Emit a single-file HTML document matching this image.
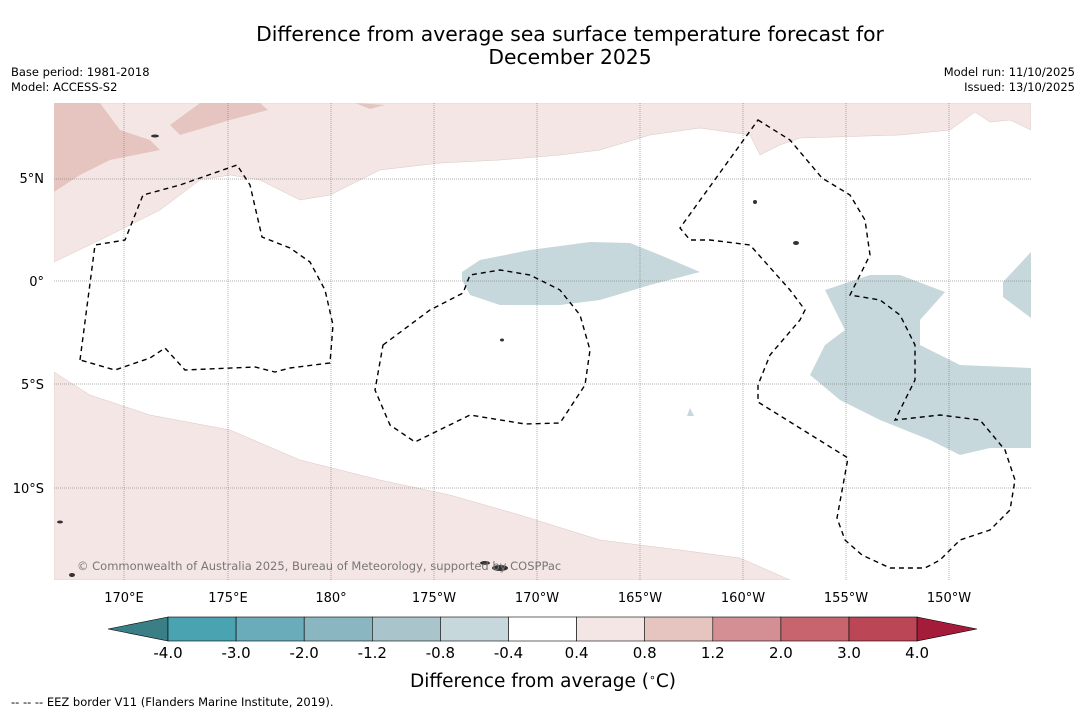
<!DOCTYPE html>
<html><head><meta charset="utf-8">
<style>
body{margin:0;background:#fff;width:1085px;height:713px;overflow:hidden;font-family:"DejaVu Sans",sans-serif;}
svg text{font-family:"DejaVu Sans",sans-serif;}
</style></head>
<body>
<svg width="1085" height="713" xmlns="http://www.w3.org/2000/svg">
<text x="570" y="41" font-size="20.3" text-anchor="middle">Difference from average sea surface temperature forecast for</text>
<text x="570" y="64" font-size="20.3" text-anchor="middle">December 2025</text>
<text x="11" y="76" font-size="11.5">Base period: 1981-2018</text>
<text x="11" y="91" font-size="11.5">Model: ACCESS-S2</text>
<text x="1075" y="76" font-size="11.5" text-anchor="end">Model run: 11/10/2025</text>
<text x="1075" y="91" font-size="11.5" text-anchor="end">Issued: 13/10/2025</text>
<g id="map">
<clipPath id="mc"><rect x="54" y="103" width="977" height="477"/></clipPath>
<g clip-path="url(#mc)">
<rect x="54" y="103" width="977" height="477" fill="#fff"/>
<path fill="#f4e6e4" stroke="#d9c8c6" stroke-width="0.5" d="M54,103 L1031,103 L1031,130 L1010,120 L990,122 L975,112 L950,130 L900,135 L800,138 L780,145 L760,155 L750,135 L700,128 L650,135 L600,150 L560,155 L500,160 L440,163 L380,170 L330,195 L300,200 L260,180 L230,175 L200,180 L160,210 L100,240 L54,262 Z"/>
<path fill="#e6c5c0" d="M54,103 L100,103 L120,130 L150,140 L160,150 L110,160 L80,175 L54,192 Z"/>
<path fill="#e6c5c0" d="M170,125 L200,103 L260,103 L268,110 L230,120 L180,135 Z"/>
<path fill="#e6c5c0" d="M355,103 L385,105 L370,109 Z"/>
<path fill="#f4e6e4" stroke="#d9c8c6" stroke-width="0.5" d="M54,372 L90,395 L150,415 L230,430 L300,460 L380,480 L450,495 L520,515 L600,540 L680,550 L740,558 L790,580 L54,580 Z"/>
<path fill="#c6d8dc" d="M462,272 L480,260 L530,250 L590,242 L630,243 L660,255 L700,272 L650,285 L600,300 L560,305 L500,305 L470,295 L462,280 Z"/>
<path fill="#c6d8dc" d="M825,290 L870,275 L900,275 L945,292 L920,320 L920,345 L960,365 L1031,368 L1031,448 L990,448 L960,455 L930,440 L880,420 L840,400 L810,375 L825,345 L845,330 Z"/>
<path fill="#c6d8dc" d="M1003,282 L1031,252 L1031,318 L1003,297 Z"/>
<path fill="#c6d8dc" d="M687,416 L690,408 L694,416 Z"/>
<g stroke="#666" stroke-width="0.5" stroke-dasharray="1,1">
<line x1="124" y1="103" x2="124" y2="580"/><line x1="228" y1="103" x2="228" y2="580"/><line x1="331" y1="103" x2="331" y2="580"/><line x1="434" y1="103" x2="434" y2="580"/><line x1="537" y1="103" x2="537" y2="580"/><line x1="640" y1="103" x2="640" y2="580"/><line x1="743" y1="103" x2="743" y2="580"/><line x1="846" y1="103" x2="846" y2="580"/><line x1="949" y1="103" x2="949" y2="580"/>
<line x1="54" y1="179" x2="1031" y2="179"/><line x1="54" y1="281" x2="1031" y2="281"/><line x1="54" y1="384" x2="1031" y2="384"/><line x1="54" y1="488" x2="1031" y2="488"/>
</g>
<g fill="none" stroke="#000" stroke-width="1.4" stroke-dasharray="5,4">
<path d="M80,360 L95,245 L125,240 L143,195 L180,185 L237,165 L250,185 L262,237 L290,248 L310,262 L325,290 L333,325 L330,363 L290,368 L275,372 L255,367 L185,370 L165,348 L150,358 L115,370 Z"/>
<path d="M383,345 L430,310 L463,293 L470,275 L500,270 L530,275 L560,290 L580,315 L590,350 L585,385 L560,423 L525,424 L470,415 L415,442 L390,425 L375,390 Z"/>
<path d="M758,120 L790,140 L822,178 L850,195 L865,220 L870,255 L850,295 L880,300 L900,315 L915,345 L915,380 L895,420 L940,415 L980,420 L1005,450 L1015,480 L1010,510 L990,530 L960,540 L940,560 L925,568 L890,568 L862,555 L845,540 L837,518 L848,458 L758,402 L758,385 L770,355 L800,320 L805,310 L790,290 L750,245 L710,240 L690,240 L680,228 Z"/>
</g>
<g fill="#333">
<ellipse cx="500" cy="568" rx="8" ry="3"/><ellipse cx="485" cy="563" rx="5" ry="2"/><ellipse cx="60" cy="522" rx="3" ry="1.5"/><ellipse cx="72" cy="575" rx="3" ry="2"/><ellipse cx="755" cy="202" rx="2" ry="2"/><ellipse cx="796" cy="243" rx="3" ry="2"/><ellipse cx="502" cy="340" rx="2" ry="1.5"/><ellipse cx="155" cy="136" rx="4" ry="1.5"/>
</g>
<text x="77" y="570" font-size="11.5" fill="#777">© Commonwealth of Australia 2025, Bureau of Meteorology, supported by COSPPac</text>
</g>
</g>
<g font-size="13">
<text x="44" y="183" text-anchor="end">5°N</text><text x="44" y="286" text-anchor="end">0°</text><text x="44" y="389" text-anchor="end">5°S</text><text x="44" y="493" text-anchor="end">10°S</text>
</g>
<g font-size="13" text-anchor="middle">
<text x="124" y="602">170°E</text><text x="228" y="602">175°E</text><text x="331" y="602">180°</text><text x="434" y="602">175°W</text><text x="537" y="602">170°W</text><text x="640" y="602">165°W</text><text x="743" y="602">160°W</text><text x="846" y="602">155°W</text><text x="949" y="602">150°W</text>
</g>
<g id="cbar"></g>
<text x="543" y="687" font-size="18.5" text-anchor="middle">Difference from average (<tspan baseline-shift="super" font-size="11">∘</tspan>C)</text>
<text x="11" y="706" font-size="11.5">-- -- -- EEZ border V11 (Flanders Marine Institute, 2019).</text>
</svg>
<script>
const levels=[-4.0,-3.0,-2.0,-1.2,-0.8,-0.4,0.4,0.8,1.2,2.0,3.0,4.0];
const tickLabels=["-4.0","-3.0","-2.0","-1.2","-0.8","-0.4","0.4","0.8","1.2","2.0","3.0","4.0"];
const binColors=["#4aa3b0","#6aacb9","#8ab6c1","#a9c5cb","#c6d8dc","#ffffff","#f4e6e4","#e6c5c0","#d48f95","#c7646e","#bb4655"];
const ns="http://www.w3.org/2000/svg";
const g=document.getElementById('cbar');
const x0=168,w=68.1,y0=617,h=24;
function bx(i){return x0+i*w;}
const lt=document.createElementNS(ns,'path');
lt.setAttribute('d',`M${x0},${y0} L108,${y0+h/2} L${x0},${y0+h} Z`);
lt.setAttribute('fill','#3a7f86');lt.setAttribute('stroke','#000');lt.setAttribute('stroke-width','0.6');


g.appendChild(lt);
binColors.forEach((c,i)=>{
 const r=document.createElementNS(ns,'rect');
 r.setAttribute('x',bx(i));r.setAttribute('y',y0);r.setAttribute('width',w);r.setAttribute('height',h);
 r.setAttribute('fill',c);r.setAttribute('stroke','#000');r.setAttribute('stroke-width','0.6');
 
 
 g.appendChild(r);
});
const xe=bx(binColors.length);
const rt=document.createElementNS(ns,'path');
rt.setAttribute('d',`M${xe},${y0} L977,${y0+h/2} L${xe},${y0+h} Z`);
rt.setAttribute('fill','#a51c3a');rt.setAttribute('stroke','#000');rt.setAttribute('stroke-width','0.6');


g.appendChild(rt);
levels.forEach((v,i)=>{
 const t=document.createElementNS(ns,'text');
 t.setAttribute('x',bx(i));t.setAttribute('y',658);t.setAttribute('font-size','15');t.setAttribute('text-anchor','middle');
 t.textContent=tickLabels[i];
 
 
 g.appendChild(t);
});
</script>
</body></html>
